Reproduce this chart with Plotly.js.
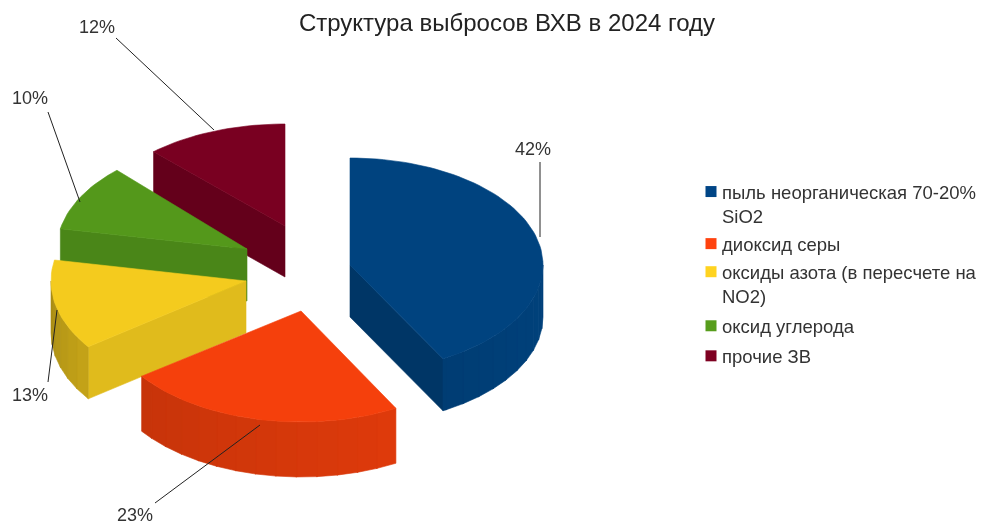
<!DOCTYPE html>
<html><head><meta charset="utf-8">
<script src="https://cdn.plot.ly/plotly-3.0.1.min.js"></script>
<style>html,body{margin:0;padding:0;background:#fff}#c{width:987px;height:526px;filter:blur(0.7px)}</style>
</head><body><div id="c"></div>
<script>
// Data
const categories = ["пыль неорганическая 70-20%<br>SiO2","диоксид серы","оксиды азота (в пересчете на<br>NO2)","оксид углерода","прочие ЗВ"];
const shares = [42,23,13,10,12];
const colors = ["#00437f","#f5400c","#f4cb1e","#54981b","#790021"];
const legendColors = ["#004586","#ff420e","#ffd320","#579d1c","#7e0021"];
// Exploded-slice layout (centre, radii and thickness of each slice, in plot units)
const cx=[350,301,246,247,285], cy=[265,311,281,249,226];
const rx=[193,197,195,190,192], ry=[107,111,112,108,102], depth=[52,55,52,52,51];
const paintOrder=[4,3,2,0,1];
const wallShade=[0.80,1,0.92,0.88,0.83];
// Label placement
const labelX=[533,135,30,30,97], labelY=[149,515,395,98,27];
const leaderX=[[540,540],[155,260],[48,57],[48,80],[116,214]];
const leaderY=[[162,237],[503,425],[382,310],[112,202],[38,130]];
// Legend row nudges (pixels)
const legendRowShift=[-3,-2,-1,2,5];
const legendSymbolShift=[-12,0,-12,0,0];

function shade(hex,f){
  const n=parseInt(hex.slice(1),16);
  const c=[n>>16,(n>>8)&255,n&255].map(v=>Math.round(Math.min(255,v*f)));
  return `rgb(${c[0]},${c[1]},${c[2]})`;
}
const total=shares.reduce((a,b)=>a+b,0);
const starts=[];let acc=0;shares.forEach(s=>{starts.push(acc/total*360);acc+=s;});
const rad=d=>d*Math.PI/180;
function pt(i,a){return [cx[i]+rx[i]*Math.sin(rad(a)),cy[i]-ry[i]*Math.cos(rad(a))];}
function poly(pts,color){
  const xs=pts.map(p=>p[0]),ys=pts.map(p=>p[1]);xs.push(xs[0]);ys.push(ys[0]);
  return {type:"scatter",mode:"lines",x:xs,y:ys,fill:"toself",fillcolor:color,
    line:{color:color,width:0.6},hoverinfo:"skip",showlegend:false};
}
const traces=[];
paintOrder.forEach(i=>{
  const a0=starts[i],a1=a0+shares[i]/total*360;
  const apex=[cx[i],cy[i]],d=depth[i];
  const apexB=[cx[i],cy[i]+d];
  if(a0>180&&a0<360){const p=pt(i,a0);traces.push(poly([apex,p,[p[0],p[1]+d],apexB],shade(colors[i],wallShade[i])));}
  if(a1>0&&a1<180){const p=pt(i,a1);traces.push(poly([apex,p,[p[0],p[1]+d],apexB],shade(colors[i],wallShade[i])));}
  const s=Math.max(a0,90),e=Math.min(a1,270);
  for(let a=s;a<e;a+=6){
    const b=Math.min(a+6.3,e),m=(a+b)/2;
    const f=0.97-0.0012*(m-100)-(m>234?0.0022*(m-234):0);
    const p=pt(i,a),q=pt(i,b);
    traces.push(poly([p,q,[q[0],q[1]+d],[p[0],p[1]+d]],shade(colors[i],f)));
  }
  const top=[apex];
  for(let a=a0;a<a1;a+=2)top.push(pt(i,a));
  top.push(pt(i,a1));
  traces.push(poly(top,colors[i]));
});
leaderX.forEach((lx,i)=>traces.push({type:"scatter",mode:"lines",x:lx,y:leaderY[i],
  line:{color:"#222",width:1},hoverinfo:"skip",showlegend:false}));
categories.forEach((c,i)=>traces.push({type:"scatter",mode:"markers",x:[null],y:[null],name:c,
  marker:{symbol:"square",size:11,color:legendColors[i]},showlegend:true}));

const annotations=shares.map((s,i)=>({x:labelX[i],y:labelY[i],xref:"x",yref:"y",text:s+"%",showarrow:false,
  font:{family:"Liberation Sans",size:18,color:"#333"},xanchor:"center",yanchor:"middle"}));

Plotly.newPlot("c",traces,{
  width:987,height:526,margin:{l:0,r:0,t:0,b:0},paper_bgcolor:"#fff",plot_bgcolor:"#fff",
  title:{text:"Структура выбросов ВХВ в 2024 году",x:507/987,xanchor:"center",y:1-23/526,yanchor:"middle",
    font:{family:"Liberation Sans",size:24,color:"#222"}},
  xaxis:{range:[0,987],visible:false,fixedrange:true},
  yaxis:{range:[526,0],visible:false,fixedrange:true},
  legend:{x:682/987,y:1-176/526,xanchor:"left",yanchor:"top",bgcolor:"rgba(0,0,0,0)",itemwidth:20,traceorder:"normal",
    font:{family:"Liberation Sans",size:18.5,color:"#333"}},
  annotations:annotations
},{staticPlot:true,displayModeBar:false}).then(()=>{
  document.querySelectorAll("#c .legend .traces").forEach((g,i)=>{
    g.setAttribute("transform",(g.getAttribute("transform")||"")+` translate(0,${legendRowShift[i]})`);
    const sym=g.querySelector(".legendsymbols");
    if(sym)sym.setAttribute("transform",`translate(9,${legendSymbolShift[i]})`);
  });
});
</script></body></html>
